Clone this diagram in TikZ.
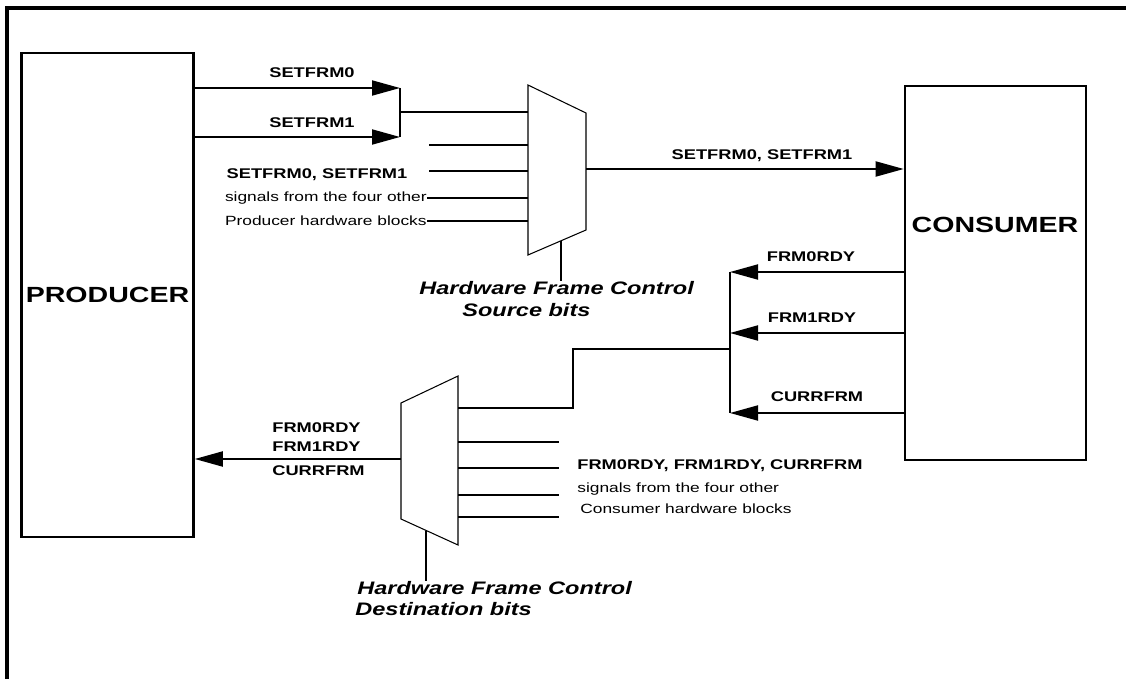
\documentclass[tikz,border=0pt]{standalone}
\usepackage{fontspec}
\setmainfont[FakeStretch=1.3]{Liberation Sans}
\usetikzlibrary{arrows.meta,positioning,calc}

\tikzset{
  block/.style={draw,line width=1.5pt,inner sep=0pt,font=\fontsize{12.5}{14}\selectfont\bfseries},
  wire/.style={line width=1.1pt},
  sig/.style={wire,-{Triangle[length=0.56cm,width=0.3cm]}},
  muxline/.style={line width=0.6pt,line join=miter},
  tag/.style={font=\fontsize{8}{9}\selectfont\bfseries,inner sep=0pt},
  note/.style={font=\fontsize{7.6}{9}\selectfont,inner sep=0pt},
  ctrl/.style={font=\fontsize{10.3}{12}\selectfont\bfseries\itshape,inner sep=0pt,anchor=west}
}

\begin{document}
\begin{tikzpicture}[x=0.02cm,y=-0.02cm]
  \useasboundingbox (0,0) rectangle (1126,679);
  % outer frame
  \draw[line width=2pt] (7,679) -- (7,8) -- (1126,8);

  % blocks
  \node[block,minimum width=3.44cm,minimum height=9.68cm] (producer) at (107.5,295) {PRODUCER};
  \node[block,minimum width=3.62cm,minimum height=7.48cm] (consumer) at (995.5,273) {};
  \node[block,draw=none] (consumerlbl) at (995,225) {CONSUMER};

  % source mux
  \coordinate (m1tl) at (528,85);
  \coordinate (m1tr) at (586,113);
  \coordinate (m1br) at (586,230);
  \coordinate (m1bl) at (528,255);
  \draw[muxline] (m1tl) -- (m1tr) -- (m1br) -- (m1bl) -- cycle;

  % producer -> source mux
  \coordinate (s0) at (400,88);
  \coordinate (s1) at (400,137);
  \coordinate (j1) at (400,112);
  \draw[sig] (producer.east |- s0) -- (s0);
  \draw[sig] (producer.east |- s1) -- (s1);
  \draw[wire] (s0) -- (s1);
  \draw[wire] (j1) -- (j1 -| m1tl);
  \node[tag] (setfrm0) at (312,73) {SETFRM0};
  \node[tag] (setfrm1) at (312,123) {SETFRM1};

  \foreach \y [count=\i] in {145,171} {
    \coordinate (p\i) at (429,\y);
    \draw[wire] (p\i) -- (p\i -| m1tl);
  }
  \node[tag] (srcother) at (317,175) {SETFRM0, SETFRM1};
  \node[note,anchor=east] (srcnote1) at (427,198) {signals from the four other};
  \node[note,anchor=east] (srcnote2) at (427,221) {Producer hardware blocks};
  \draw[wire] (srcnote1.east) -- (srcnote1.east -| m1tl);
  \draw[wire] (srcnote2.east) -- (srcnote2.east -| m1tl);

  % source mux -> consumer
  \coordinate (m1out) at (586,169);
  \draw[sig] (m1out) -- (m1out -| consumer.west);
  \node[tag] (setout) at (762,156) {SETFRM0, SETFRM1};

  % source select
  \node[ctrl] (srclbl) at (419,288) {Hardware Frame Control};
  \node[ctrl] (srcbits) at (462,310) {Source bits};
  \coordinate (m1sel) at (561,241);
  \draw[wire] (m1sel) -- (m1sel |- srclbl.north);

  % consumer -> destination mux
  \coordinate (r0) at (730,272);
  \coordinate (r1) at (730,333);
  \coordinate (r2) at (730,413);
  \draw[sig] (consumer.west |- r0) -- (r0);
  \draw[sig] (consumer.west |- r1) -- (r1);
  \draw[sig] (consumer.west |- r2) -- (r2);
  \draw[wire] (r0) -- (r2);
  \node[tag] (frm0) at (811,257) {FRM0RDY};
  \node[tag] (frm1) at (812,318) {FRM1RDY};
  \node[tag] (curr) at (817,397) {CURRFRM};

  % destination mux
  \coordinate (m2tl) at (401,403);
  \coordinate (m2tr) at (458,376);
  \coordinate (m2br) at (458,545);
  \coordinate (m2bl) at (401,519);
  \draw[muxline] (m2tl) -- (m2tr) -- (m2br) -- (m2bl) -- cycle;

  \coordinate (j2) at (730,349);
  \coordinate (bend1) at (573,349);
  \coordinate (bend2) at (573,408);
  \draw[wire] (j2) -- (bend1) -- (bend2) -- (bend2 -| m2tr);

  \foreach \y [count=\i] in {442,468,495,517} {
    \coordinate (q\i) at (559,\y);
    \draw[wire] (q\i -| m2tr) -- (q\i);
  }
  \node[tag,anchor=west] (dstother) at (577,466) {FRM0RDY, FRM1RDY, CURRFRM};
  \node[note,anchor=west] (dstnote1) at (577,489) {signals from the four other};
  \node[note,anchor=west] (dstnote2) at (580,509) {Consumer hardware blocks};

  % destination mux -> producer
  \coordinate (m2out) at (401,459);
  \draw[sig] (m2out) -- (m2out -| producer.east);
  \node[tag,anchor=west] (back0) at (272,428) {FRM0RDY};
  \node[tag,anchor=west] (back1) at (272,447) {FRM1RDY};
  \node[tag,anchor=west] (back2) at (272,471) {CURRFRM};

  % destination select
  \node[ctrl] (dstlbl) at (357,588) {Hardware Frame Control};
  \node[ctrl] (dstbits) at (355,609) {Destination bits};
  \coordinate (m2sel) at (426,531);
  \draw[wire] (m2sel) -- (m2sel |- dstlbl.north);
\end{tikzpicture}
\end{document}
